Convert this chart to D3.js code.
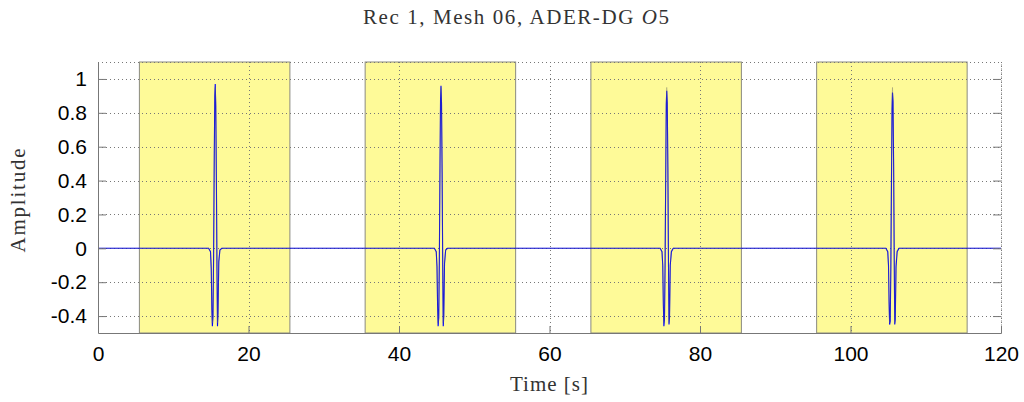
<!DOCTYPE html>
<html lang="en">
<head>
  <meta charset="UTF-8">
  <title>Rec 1, Mesh 06</title>
  <style>
    body { margin: 0; background: #fff; }
  </style>
</head>
<body>
  <script src="https://d3js.org/d3.v7.min.js"></script>
  <script>

    // time windows (highlighted)
    const windowStart = [5.5, 35.5, 65.5, 95.5];
    const windowEnd = [25.5, 55.5, 85.5, 115.5];

    const xTicks = [0, 20, 40, 60, 80, 100, 120];
    const yTicks = [-0.4, -0.2, 0, 0.2, 0.4, 0.6, 0.8, 1];

    // pulse samples, time [s]
    const pulseT1 = [14.7, 14.95, 15.05, 15.13, 15.2, 15.28, 15.36, 15.45, 15.52, 15.58, 15.65, 15.73, 15.81, 15.88, 15.95, 16.05, 16.2, 16.45];
    const pulseT2 = [44.7, 44.95, 45.05, 45.13, 45.2, 45.28, 45.36, 45.45, 45.52, 45.58, 45.65, 45.73, 45.81, 45.88, 45.95, 46.05, 46.2, 46.45];
    const pulseT3 = [74.7, 74.95, 75.05, 75.13, 75.2, 75.28, 75.36, 75.45, 75.52, 75.58, 75.65, 75.73, 75.81, 75.88, 75.95, 76.05, 76.2, 76.45];
    const pulseT4 = [104.7, 104.95, 105.05, 105.13, 105.2, 105.28, 105.36, 105.45, 105.52, 105.58, 105.65, 105.73, 105.81, 105.88, 105.95, 106.05, 106.2, 106.45];

    // ADER-DG amplitude
    const simA1 = [0, -0.02, -0.12, -0.36, -0.46, -0.40, -0.06, 0.54, 0.90, 0.97, 0.84, 0.42, -0.12, -0.46, -0.38, -0.08, -0.01, 0];
    const simA2 = [0, -0.02, -0.11, -0.34, -0.46, -0.41, -0.08, 0.50, 0.88, 0.96, 0.86, 0.45, -0.10, -0.46, -0.40, -0.09, -0.01, 0];
    const simA3 = [0, -0.02, -0.10, -0.33, -0.46, -0.42, -0.10, 0.46, 0.85, 0.93, 0.86, 0.48, -0.08, -0.45, -0.41, -0.10, -0.02, 0];
    const simA4 = [0, -0.02, -0.10, -0.32, -0.45, -0.43, -0.12, 0.42, 0.82, 0.92, 0.87, 0.50, -0.05, -0.45, -0.42, -0.11, -0.02, 0];

    // reference amplitude
    const refA1 = [0, -0.02, -0.11, -0.34, -0.44, -0.41, -0.08, 0.50, 0.86, 0.95, 0.86, 0.46, -0.10, -0.44, -0.40, -0.09, -0.01, 0];
    const refA2 = [0, -0.02, -0.11, -0.34, -0.44, -0.41, -0.08, 0.50, 0.86, 0.95, 0.86, 0.46, -0.10, -0.44, -0.40, -0.09, -0.01, 0];
    const refA3 = [0, -0.02, -0.11, -0.34, -0.44, -0.41, -0.08, 0.50, 0.86, 0.95, 0.86, 0.46, -0.10, -0.44, -0.40, -0.09, -0.01, 0];
    const refA4 = [0, -0.02, -0.11, -0.34, -0.44, -0.41, -0.08, 0.50, 0.86, 0.95, 0.86, 0.46, -0.10, -0.44, -0.40, -0.09, -0.01, 0];

    const tStart = 0, tEnd = 120;

    const width = 1024, height = 402;
    const margin = { top: 62, right: 23, bottom: 69, left: 98 };
    const iw = width - margin.left - margin.right;
    const ih = height - margin.top - margin.bottom;

    const build = (ts, as) => {
      const pts = [[tStart, 0]];
      ts.forEach((t, k) => t.forEach((v, i) => pts.push([v, as[k][i]])));
      pts.push([tEnd, 0]);
      return pts;
    };
    const simData = build([pulseT1, pulseT2, pulseT3, pulseT4], [simA1, simA2, simA3, simA4]);
    const refData = build([pulseT1, pulseT2, pulseT3, pulseT4], [refA1, refA2, refA3, refA4]);

    const x = d3.scaleLinear().domain([0, 120]).range([0, iw]);
    const y = d3.scaleLinear().domain([-0.5, 1.1]).range([ih, 0]);

    const svg = d3.select('body').append('svg')
      .attr('width', width)
      .attr('height', height);

    const g = svg.append('g')
      .attr('transform', `translate(${margin.left},${margin.top})`);

    // windows
    g.selectAll('rect.win')
      .data(windowStart)
      .join('rect')
      .attr('class', 'win')
      .attr('x', d => x(d))
      .attr('y', 0)
      .attr('width', (d, i) => x(windowEnd[i]) - x(d))
      .attr('height', ih)
      .attr('fill', '#fefa98')
      .attr('stroke', '#8a8a80')
      .attr('stroke-width', 1);

    // grid
    g.append('g').selectAll('line')
      .data(yTicks)
      .join('line')
      .attr('x1', 0).attr('x2', iw)
      .attr('y1', d => Math.round(y(d)) + 0.5).attr('y2', d => Math.round(y(d)) + 0.5)
      .attr('stroke', '#777')
      .attr('stroke-width', 1)
      .attr('stroke-dasharray', '1,3');
    g.append('g').selectAll('line')
      .data(xTicks.slice(1))
      .join('line')
      .attr('x1', d => Math.round(x(d)) + 0.5).attr('x2', d => Math.round(x(d)) + 0.5)
      .attr('y1', 0).attr('y2', ih)
      .attr('stroke', '#777')
      .attr('stroke-width', 1)
      .attr('stroke-dasharray', '1,3');
    g.append('line')
      .attr('x1', 0).attr('x2', iw)
      .attr('y1', 0.5).attr('y2', 0.5)
      .attr('stroke', '#777')
      .attr('stroke-dasharray', '1,3');

    const line = d3.line().x(d => x(d[0])).y(d => y(d[1]));

    g.append('path')
      .datum(simData)
      .attr('d', line)
      .attr('fill', 'none')
      .attr('stroke', '#0000ff')
      .attr('stroke-width', 1.1);

    g.append('path')
      .datum(refData)
      .attr('d', line)
      .attr('fill', 'none')
      .attr('stroke', '#666')
      .attr('stroke-opacity', 0.55)
      .attr('stroke-width', 0.6);

    // axes
    const fmt = d => String(d).replace('−', '-');
    const xAxis = g.append('g')
      .attr('transform', `translate(0,${ih})`)
      .call(d3.axisBottom(x).tickValues(xTicks).tickFormat(fmt).tickSizeInner(-7).tickSizeOuter(0).tickPadding(13));
    const yAxis = g.append('g')
      .call(d3.axisLeft(y).tickValues(yTicks).tickFormat(fmt).tickSizeInner(-8).tickSizeOuter(0).tickPadding(11));
    const yRight = g.append('g')
      .attr('transform', `translate(${iw},0)`)
      .call(d3.axisRight(y).tickValues(yTicks).tickFormat('').tickSizeInner(-8).tickSizeOuter(0));
    yRight.select('.domain').attr('stroke-dasharray', '1,3');
    [xAxis, yAxis, yRight].forEach(a => {
      a.selectAll('.domain').attr('stroke', '#777');
      a.selectAll('.tick line').attr('stroke', '#777');
      a.selectAll('.tick text')
        .attr('font-family', '"Liberation Sans", Arial, sans-serif')
        .attr('font-size', 21)
        .attr('fill', '#000');
    });

    // labels
    const serif = '"Liberation Serif", "DejaVu Serif", serif';
    const title = svg.append('text')
      .attr('x', 516).attr('y', 24)
      .attr('text-anchor', 'middle')
      .attr('font-family', serif)
      .attr('font-size', 21)
      .attr('fill', '#333')
      .attr('textLength', 306)
      .attr('lengthAdjust', 'spacing');
    title.append('tspan').text('Rec 1, Mesh 06, ADER-DG ');
    title.append('tspan').attr('font-style', 'italic').text('O');
    title.append('tspan').text('5');

    svg.append('text')
      .attr('x', 549).attr('y', 391)
      .attr('text-anchor', 'middle')
      .attr('font-family', serif)
      .attr('font-size', 21)
      .attr('fill', '#333')
      .attr('textLength', 78)
      .attr('lengthAdjust', 'spacing')
      .text('Time [s]');

    svg.append('text')
      .attr('transform', `translate(25,${margin.top + ih / 2 + 3}) rotate(-90)`)
      .attr('text-anchor', 'middle')
      .attr('font-family', serif)
      .attr('font-size', 21)
      .attr('fill', '#333')
      .attr('textLength', 104)
      .attr('lengthAdjust', 'spacing')
      .text('Amplitude');

  </script>
</body>
</html>
